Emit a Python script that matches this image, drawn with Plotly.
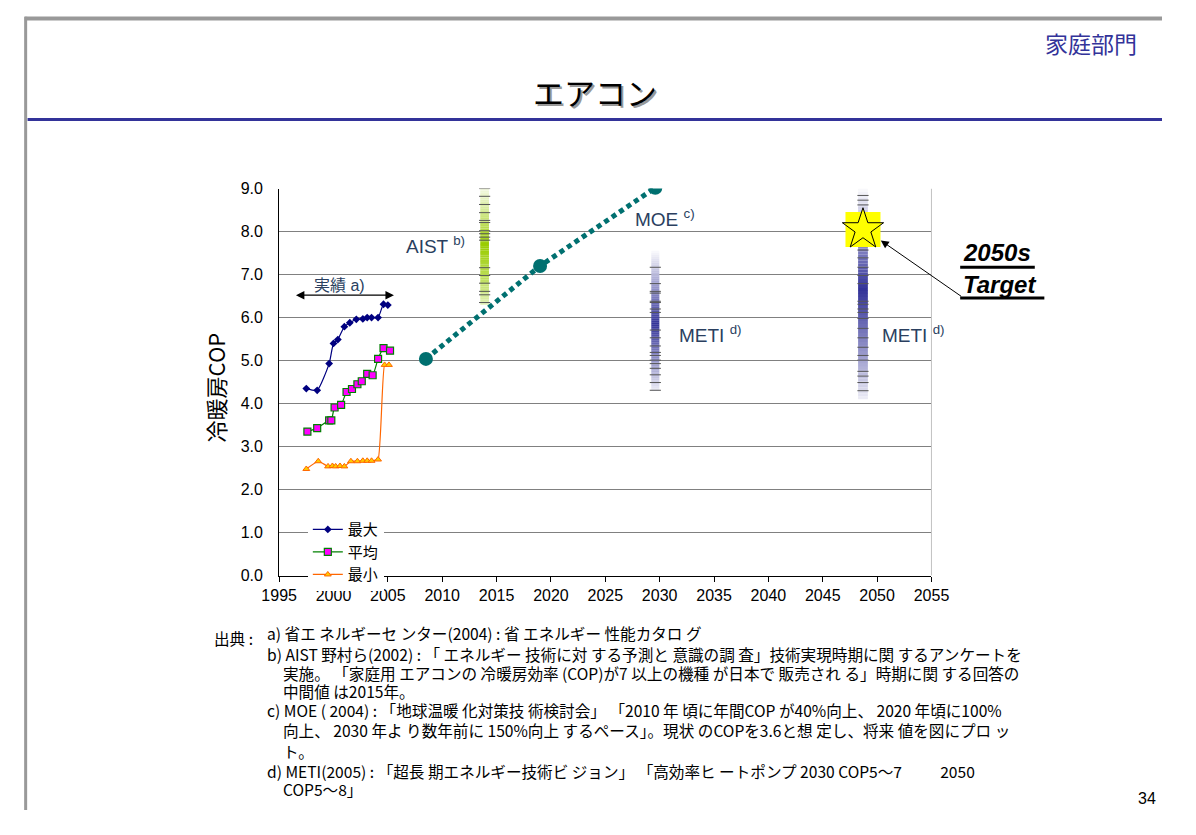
import plotly.graph_objects as go

# ---------------- data ----------------
years_max = [1997.5, 1998.5, 1999.6, 2000.0, 2000.4, 2001.0, 2001.5, 2002.1, 2002.7, 2003.1, 2003.5, 2004.1, 2004.6, 2005.0]
cop_max = [4.35, 4.31, 4.93, 5.40, 5.49, 5.79, 5.88, 5.96, 5.97, 6.00, 6.00, 6.00, 6.31, 6.29]

years_avg = [1997.6, 1998.5, 1999.6, 1999.8, 2000.1, 2000.7, 2001.2, 2001.7, 2002.2, 2002.6, 2003.1, 2003.6, 2004.1, 2004.6, 2005.2]
cop_avg = [3.35, 3.43, 3.61, 3.61, 3.91, 3.97, 4.27, 4.34, 4.45, 4.52, 4.69, 4.66, 5.04, 5.29, 5.23]

years_min = [1997.5, 1998.6, 1999.5, 1999.9, 2000.2, 2000.6, 2001.0, 2001.6, 2002.2, 2002.7, 2003.1, 2003.5, 2004.1, 2004.7, 2005.1]
cop_min = [2.48, 2.66, 2.54, 2.55, 2.54, 2.55, 2.54, 2.66, 2.66, 2.67, 2.67, 2.67, 2.70, 4.90, 4.90]

moe_years = [2008.5, 2019.0, 2029.6]
moe_cop = [5.04, 7.20, 9.02]

# survey / projection ranges: (year, low, high, densest value)
aist_range = (2013.9, 6.30, 9.25, 7.70)
meti2030_range = (2029.6, 4.30, 7.55, 5.85)
meti2050_range = (2048.7, 4.10, 9.00, 6.65)

aist_answers = [9.21, 9.00, 8.82, 8.63, 8.44, 8.26, 8.21, 8.02, 7.95, 7.87, 7.80, 7.16, 6.98, 6.80, 6.61, 6.53, 6.35]
meti2030_answers = [7.17, 6.79, 6.61, 6.57, 6.38, 6.35, 6.20, 6.12, 5.71, 5.53, 5.34, 5.19, 5.12, 5.01, 4.93, 4.82, 4.67, 4.49, 4.31]
meti2050_answers = [8.84, 8.73, 8.62, 7.57, 7.39, 7.17, 6.98, 6.79, 6.38, 6.31, 6.20, 6.12, 5.98, 5.75, 5.53, 5.31, 5.12, 5.01, 4.75, 4.64, 4.49, 4.30]

target_year = 2048.7
target_cop = 8.05

x_ticks = list(range(1995, 2056, 5))
y_ticks = [0, 1, 2, 3, 4, 5, 6, 7, 8, 9]

# ---------------- layout geometry ----------------
# positions are given in reference-picture pixels (1196x835) and mapped proportionally
RW, RH = 1196, 835
FW, FH = 1180, 819          # figure fits inside the window together with the page margin
PL, PR, PT, PB = 273, 955, 188, 591
XMIN, XMAX, YMIN, YMAX = 1995, 2055, 0, 9

def px(x):
    return x / RW

def py(y):
    return 1 - y / RH

def dx(xpix):
    return XMIN + (xpix - PL) / (PR - PL) * (XMAX - XMIN)

def dy(ypix):
    return YMIN + (PB - ypix) / (PB - PT) * (YMAX - YMIN)

FONT = "Liberation Sans, Arial, Noto Sans CJK JP, sans-serif"
JFONT = "Noto Sans CJK JP, Liberation Sans, sans-serif"

fig = go.Figure()

# actual data series
fig.add_trace(go.Scatter(x=years_max, y=cop_max, mode="lines+markers", name="最大",
                         line=dict(color="#000080", width=1.2, shape="spline", smoothing=0.5),
                         marker=dict(symbol="diamond", size=6, color="#000080")))
fig.add_trace(go.Scatter(x=years_avg, y=cop_avg, mode="lines+markers", name="平均",
                         line=dict(color="#008000", width=1.2, shape="spline", smoothing=0.5),
                         marker=dict(symbol="square", size=7, color="#FF00FF",
                                     line=dict(color="#008000", width=1.2))))
fig.add_trace(go.Scatter(x=years_min, y=cop_min, mode="lines+markers", name="最小",
                         line=dict(color="#FF6600", width=1.2, shape="spline", smoothing=0.4),
                         marker=dict(symbol="triangle-up", size=6, color="#FFCC00",
                                     line=dict(color="#FF6600", width=1))))

# MOE projection
fig.add_trace(go.Scatter(x=moe_years, y=moe_cop, mode="lines+markers", showlegend=False,
                         line=dict(color="#007070", width=5, dash="5px,4px"),
                         marker=dict(symbol="circle", size=14, color="#007070")))

# gradient range bars
def mix(rgb, t):
    return "rgb(%d,%d,%d)" % tuple(round(255 * (1 - t) + c * t) for c in rgb)

shapes = []

def grad_bar(rng, rgb, halfw, top_floor, bot_floor, top_exp, bot_exp, n=70):
    xc, lo, hi, pk = rng
    for i in range(n):
        y0 = lo + (hi - lo) * i / n
        y1 = lo + (hi - lo) * (i + 1) / n
        ym = (y0 + y1) / 2
        if ym >= pk:
            t = 1 - (ym - pk) / (hi - pk)
            t = top_floor + (1 - top_floor) * t ** top_exp
        else:
            t = 1 - (pk - ym) / (pk - lo)
            t = bot_floor + (1 - bot_floor) * t ** bot_exp
        shapes.append(dict(type="rect", xref="x", yref="y", layer="between",
                           x0=xc - halfw, x1=xc + halfw, y0=y0, y1=y1 + 0.002,
                           fillcolor=mix(rgb, t), line=dict(width=0)))

grad_bar(aist_range, (153, 204, 0), 0.40, 0.03, 0.25, 1.3, 0.8)
grad_bar(meti2030_range, (51, 51, 153), 0.37, 0.02, 0.08, 1.0, 0.9)
grad_bar(meti2050_range, (51, 51, 153), 0.45, 0.02, 0.08, 1.0, 0.9)

for rng, ans in [(aist_range, aist_answers), (meti2030_range, meti2030_answers), (meti2050_range, meti2050_answers)]:
    fig.add_trace(go.Scatter(x=[rng[0]] * len(ans), y=ans, mode="markers", showlegend=False,
                             hoverinfo="skip",
                             marker=dict(symbol="line-ew", size=8, color="#555555",
                                         line=dict(color="#555555", width=1))))

# 2050 target star
fig.add_trace(go.Scatter(x=[target_year], y=[target_cop], mode="markers", showlegend=False,
                         marker=dict(symbol="square", size=35, color="#FFFF00", line=dict(width=0))))
fig.add_trace(go.Scatter(x=[target_year], y=[target_cop], mode="markers", showlegend=False,
                         marker=dict(symbol="star", size=31, color="#FFFF00",
                                     line=dict(color="#000000", width=1))))

# right border of plot
shapes.append(dict(type="line", xref="x", yref="y", x0=XMAX, x1=XMAX, y0=YMIN, y1=YMAX,
                   line=dict(color="#808080", width=1)))

# page decorations
shapes.append(dict(type="line", xref="paper", yref="paper", x0=px(7), x1=1, y0=py(11), y1=py(11),
                   line=dict(color="#999999", width=4)))
shapes.append(dict(type="line", xref="paper", yref="paper", x0=px(8), x1=px(8), y0=py(9), y1=0,
                   line=dict(color="#999999", width=3)))
shapes.append(dict(type="line", xref="paper", yref="paper", x0=px(10), x1=1, y0=py(116), y1=py(116),
                   line=dict(color="#333399", width=3)))
# underlines for target label
shapes.append(dict(type="line", xref="paper", yref="paper", x0=px(985), x1=px(1063), y0=py(270), y1=py(270),
                   line=dict(color="#000000", width=3)))
shapes.append(dict(type="line", xref="paper", yref="paper", x0=px(985), x1=px(1073), y0=py(302), y1=py(302),
                   line=dict(color="#000000", width=3)))

ann = []

def text(xp, yp, s, size, color="#000000", family=FONT, xanchor="left", **kw):
    d = dict(xref="paper", yref="paper", x=px(xp), y=py(yp), text=s, showarrow=False,
             xanchor=xanchor, yanchor="middle", font=dict(size=size, color=color, family=family))
    d.update(kw)
    ann.append(d)

# header
text(1122, 36, "家庭部門", 23, color="#333399", family=JFONT, xanchor="center")
text(605, 89, "エアコン", 31, color="#999999", family=JFONT, xanchor="center")
text(603, 87, "エアコン", 31, color="#000000", family=JFONT, xanchor="center")
text(1192, 823, "34", 16, xanchor="right")

# axis title
ann.append(dict(xref="paper", yref="paper", x=px(206), y=py(395), text="冷暖房COP", textangle=-90,
                showarrow=False, xanchor="center", yanchor="middle",
                font=dict(size=22, color="#000000", family=JFONT)))

# chart labels
ann.append(dict(xref="x", yref="y", x=dx(336), y=dy(289), text="実績 a)", showarrow=False,
                xanchor="center", yanchor="middle", font=dict(size=16, family=FONT)))
ann.append(dict(xref="x", yref="y", x=dx(393), y=dy(299), ax=dx(289), ay=dy(299),
                axref="x", ayref="y", text="", showarrow=True, arrowside="end+start",
                arrowhead=2, arrowsize=1.3, arrowwidth=1.3, arrowcolor="#000000"))
ann.append(dict(xref="x", yref="y", x=dx(404), y=dy(247), text="AIST <sup>b)</sup>", showarrow=False,
                xanchor="left", yanchor="middle", font=dict(size=19, family=FONT)))
ann.append(dict(xref="x", yref="y", x=dx(643), y=dy(219), text="MOE <sup>c)</sup>", showarrow=False,
                xanchor="left", yanchor="middle", font=dict(size=19, family=FONT)))
ann.append(dict(xref="x", yref="y", x=dx(689), y=dy(339), text="METI <sup>d)</sup>", showarrow=False,
                xanchor="left", yanchor="middle", font=dict(size=19, family=FONT)))
ann.append(dict(xref="x", yref="y", x=dx(901), y=dy(339), text="METI <sup>d)</sup>", showarrow=False,
                xanchor="left", yanchor="middle", font=dict(size=19, family=FONT)))

# target label and arrow
text(986, 255, "<b><i>2050s</i></b>", 24)
text(986, 288, "<b><i>Target</i></b>", 24)
ann.append(dict(xref="x", yref="y", x=dx(902), y=dy(242), ax=(985 - 902) * FW / RW, ay=(300 - 242) * FH / RH,
                text="", showarrow=True, arrowhead=2, arrowsize=1.6, arrowwidth=1, arrowcolor="#000000"))

# footnotes
FS = 15.6
notes = [
    (258, 651, "a) 省エ ネルギーセ ンター(2004) : 省 エネルギー 性能カタロ グ"),
    (258, 673, "b) AIST 野村ら(2002) : 「 エネルギー 技術に対 する予測と 意識の調 査」技術実現時期に関 するアンケートを"),
    (275, 692, "実施。 「家庭用 エアコンの 冷暖房効率 (COP)が7 以上の機種 が日本で 販売され る」時期に関 する回答の"),
    (275, 711, "中間値 は2015年。"),
    (258, 731, "c) MOE ( 2004) : 「地球温暖 化対策技 術検討会」 「2010 年 頃に年間COP が40%向上、 2020 年頃に100%"),
    (275, 752, "向上、 2030 年よ り数年前に 150%向上 するペース」。現状 のCOPを3.6と想 定し、将来 値を図にプロ ッ"),
    (275, 774, "ト。"),
    (258, 794, "d) METI(2005) : 「超長 期エネルギー技術ビ ジョン」 「高効率ヒ ートポンプ 2030 COP5～7　　  2050"),
    (275, 813, "COP5～8」"),
]
text(203, 656, "出典 :", FS, family=JFONT)
for xp, yp, s in notes:
    text(xp, yp, s, FS, family=JFONT)

fig.update_layout(
    width=FW, height=FH,
    margin=dict(l=0, r=0, t=0, b=0),
    paper_bgcolor="#FFFFFF", plot_bgcolor="#FFFFFF",
    shapes=shapes, annotations=ann,
    showlegend=True,
    legend=dict(x=px(303), y=py(526), xanchor="left", yanchor="top",
                bgcolor="#FFFFFF", borderwidth=0, itemwidth=30,
                font=dict(size=15, family=JFONT, color="#000000"),
                tracegroupgap=0),
    xaxis=dict(domain=[px(PL), px(PR)], range=[XMIN, XMAX], tickvals=x_ticks,
               showgrid=False, zeroline=False, showline=True, linecolor="#000000", linewidth=1,
               ticks="outside", ticklen=5, tickcolor="#000000",
               tickfont=dict(size=16, family=FONT, color="#000000")),
    yaxis=dict(domain=[py(PB), py(PT)], range=[YMIN, YMAX], tickvals=y_ticks, tickformat=".1f",
               showgrid=True, gridcolor="#808080", gridwidth=1, zeroline=False,
               showline=True, linecolor="#000000", linewidth=1,
               ticks="", ticklabelstandoff=12,
               tickfont=dict(size=16, family=FONT, color="#000000")),
)

fig.write_html("out.html")
